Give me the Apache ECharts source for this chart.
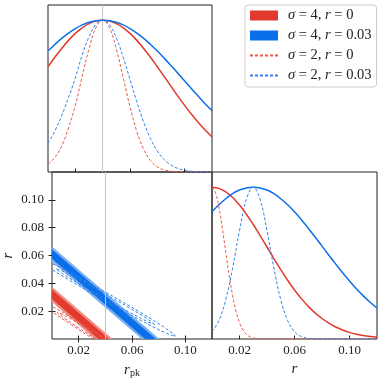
<!DOCTYPE html>
<html>
<head>
<meta charset="utf-8">
<script src="https://cdn.jsdelivr.net/npm/echarts@6/dist/echarts.min.js"></script>
<style>
  html, body { margin: 0; padding: 0; background: #fff; }
  #main { width: 382px; height: 382px; }
</style>
</head>
<body>
<div id="main"></div>
<script>
  // legend entries: sigma and fiducial r of each forecast
  const names = ['σ = 4, r = 0', 'σ = 4, r = 0.03', 'σ = 2, r = 0', 'σ = 2, r = 0.03'];
  const sigmaVals = ['4', '4', '2', '2'];
  const rVals = ['0', '0.03', '0', '0.03'];
  const fiducialRpk = 0.04;

  // sampling of the 1D marginals
  const rpkGrid = [0, 0.005, 0.01, 0.015, 0.02, 0.025, 0.03, 0.035, 0.04, 0.045, 0.05, 0.055, 0.06,
    0.065, 0.07, 0.075, 0.08, 0.085, 0.09, 0.095, 0.1, 0.105, 0.11, 0.115, 0.12];
  const rGrid = rpkGrid;
  const rFineGrid = [0, 0.0025, 0.005, 0.0075, 0.01, 0.0125, 0.015, 0.0175, 0.02, 0.0225, 0.025,
    0.0275, 0.03, 0.035, 0.04, 0.12];

  // r_pk marginals (top left), peak = 1
  const rpkS4r0 = [0.693, 0.756, 0.814, 0.867, 0.913, 0.950, 0.977, 0.994, 1, 0.994, 0.977, 0.950, 0.913,
    0.867, 0.814, 0.756, 0.693, 0.629, 0.564, 0.500, 0.439, 0.380, 0.326, 0.276, 0.231];
  const rpkS4r03 = [0.797, 0.840, 0.880, 0.915, 0.945, 0.969, 0.986, 0.996, 1, 0.996, 0.986, 0.969, 0.945,
    0.915, 0.880, 0.840, 0.797, 0.750, 0.701, 0.651, 0.600, 0.549, 0.499, 0.450, 0.403];
  const rpkS2r0 = [0.053, 0.095, 0.17, 0.29, 0.44, 0.63, 0.81, 0.95, 1, 0.949, 0.810, 0.622, 0.430,
    0.267, 0.150, 0.075, 0.034, 0.014, 0.005, 0.002, 0.0005, 0, 0, 0, 0];
  const rpkS2r03 = [0.189, 0.27, 0.37, 0.49, 0.62, 0.77, 0.89, 0.972, 1, 0.970, 0.884, 0.757, 0.610,
    0.462, 0.329, 0.220, 0.139, 0.082, 0.046, 0.024, 0.012, 0.005, 0.002, 0.001, 0];

  // r marginals (bottom right), peak = 1
  const rS4r0 = [1, 0.992, 0.969, 0.932, 0.882, 0.822, 0.754, 0.681, 0.606, 0.530, 0.457, 0.387, 0.323,
    0.266, 0.215, 0.172, 0.135, 0.104, 0.079, 0.059, 0.0435, 0.0316, 0.0225, 0.0158, 0.011];
  const rS4r03 = [0.838, 0.884, 0.924, 0.957, 0.981, 0.995, 1, 0.995, 0.981, 0.957, 0.924, 0.884, 0.838,
    0.786, 0.730, 0.672, 0.612, 0.552, 0.493, 0.436, 0.382, 0.331, 0.284, 0.242, 0.204];
  const rS2r0 = [1, 0.966, 0.870, 0.730, 0.572, 0.418, 0.285, 0.181, 0.107, 0.059, 0.0305, 0.0146,
    0.0065, 0.001, 0, 0];
  const rS2r03 = [0.048, 0.121, 0.259, 0.468, 0.713, 0.919, 1, 0.919, 0.713, 0.468, 0.259, 0.121, 0.048,
    0.016, 0.0045, 0.0011, 0.0002, 0, 0, 0, 0, 0, 0, 0, 0];

  // 2D contours [r_pk, r]: filled bands (sigma = 4), visible part
  const bandS4r0Outer = [[0, 0.0375], [0.04545, 0], [0.0321, 0], [0, 0.0265]];
  const bandS4r0Inner = [[0, 0.0353], [0.0428, 0], [0.0348, 0], [0, 0.0287]];
  const bandS4r03Outer = [[0, 0.0665], [0.0806, 0], [0.0673, 0], [0, 0.0555]];
  const bandS4r03Inner = [[0, 0.0643], [0.0779, 0], [0.0699, 0], [0, 0.0577]];
  // dashed contours (sigma = 2), closed outlines
  const lineS2r0Outer = [[0.081, -0.027], [0.075, -0.0219], [0.0585, -0.0109], [0.036, 0.003], [0.0135, 0.0161],
    [-0.003, 0.0249], [-0.009, 0.027], [-0.003, 0.0219], [0.0135, 0.0109], [0.036, -0.003],
    [0.0585, -0.0161], [0.075, -0.0249], [0.081, -0.027]];
  const lineS2r0Inner = [[0.068, -0.0192], [0.0637, -0.0157], [0.052, -0.008], [0.036, 0.0018], [0.020, 0.0112],
    [0.0083, 0.0175], [0.004, 0.0192], [0.0083, 0.0157], [0.020, 0.008], [0.036, -0.0018],
    [0.052, -0.0112], [0.0637, -0.0175], [0.068, -0.0192]];
  const lineS2r03Outer = [[0.093, 0.0019], [0.0859, 0.0073], [0.0665, 0.019], [0.04, 0.0337], [0.0135, 0.0476],
    [-0.0059, 0.0569], [-0.013, 0.0591], [-0.0059, 0.0537], [0.0135, 0.042], [0.04, 0.0273],
    [0.0665, 0.0134], [0.0859, 0.0041], [0.093, 0.0019]];
  const lineS2r03Inner = [[0.077, 0.0105], [0.072, 0.0141], [0.0585, 0.0221], [0.04, 0.0323], [0.0215, 0.0421],
    [0.008, 0.0487], [0.003, 0.0505], [0.008, 0.0469], [0.0215, 0.0389], [0.04, 0.0287],
    [0.0585, 0.019], [0.072, 0.0123], [0.077, 0.0105]];

  const xTicks = [0.02, 0.06, 0.10];
  const yTicks = [0.02, 0.04, 0.06, 0.08, 0.10];

  const red = '#e23a2c', blue = '#0b6fe9', redLight = '#ee8c83', blueLight = '#79b0f3';
  const redDash = '#e8564a', blueDash = '#2f82ec';
  const serif = '"Liberation Serif", "DejaVu Serif", serif';
  const ink = '#222';

  const pairs = (xs, ys) => xs.map((x, i) => [x, ys[i]]);

  function band(name, pts, color, fill, z) {
    return {
      type: 'custom', name: name, xAxisIndex: 1, yAxisIndex: 1, z: z, silent: true,
      itemStyle: { color: color },
      data: pts,
      renderItem: function (params, api) {
        if (params.dataIndex !== 0) return null;
        return {
          type: 'polygon',
          shape: { points: pts.map(p => api.coord(p)) },
          style: { fill: fill }
        };
      }
    };
  }

  function curve(name, xi, yi, data, color, dashed, z) {
    return {
      type: 'line', name: name, xAxisIndex: xi, yAxisIndex: yi, data: data,
      symbol: 'none', smooth: 0.4, z: z, silent: true, clip: true,
      lineStyle: dashed ? { color: color, width: 1, type: [3, 2] } : { color: color, width: 1.5 },
      itemStyle: { color: color }
    };
  }

  const vline = {
    silent: true, symbol: 'none', label: { show: false },
    lineStyle: { color: '#c4c4c4', width: 1, type: 'solid' },
    data: [{ xAxis: fiducialRpk }]
  };

  const chart = echarts.init(document.getElementById('main'));

  const series = [
    band(names[0], bandS4r0Outer, red, redLight, 1),
    band(names[0], bandS4r0Inner, red, red, 2),
    band(names[1], bandS4r03Outer, blue, blueLight, 1),
    band(names[1], bandS4r03Inner, blue, blue, 2),
    curve(names[2], 1, 1, lineS2r0Outer, redDash, true, 4),
    curve(names[2], 1, 1, lineS2r0Inner, redDash, true, 4),
    curve(names[3], 1, 1, lineS2r03Outer, blueDash, true, 4),
    curve(names[3], 1, 1, lineS2r03Inner, blueDash, true, 4),
    curve(names[0], 0, 0, pairs(rpkGrid, rpkS4r0), red, false, 3),
    curve(names[1], 0, 0, pairs(rpkGrid, rpkS4r03), blue, false, 3),
    curve(names[2], 0, 0, pairs(rpkGrid, rpkS2r0), redDash, true, 3),
    curve(names[3], 0, 0, pairs(rpkGrid, rpkS2r03), blueDash, true, 3),
    curve(names[0], 3, 3, pairs(rGrid, rS4r0), red, false, 3),
    curve(names[1], 3, 3, pairs(rGrid, rS4r03), blue, false, 3),
    curve(names[2], 3, 3, pairs(rFineGrid, rS2r0), redDash, true, 3),
    curve(names[3], 3, 3, pairs(rGrid, rS2r03), blueDash, true, 3)
  ];
  series[7].markLine = Object.assign({ z: 6 }, vline);
  series[11].markLine = Object.assign({ z: 1 }, vline);

  const hidden = { show: false };
  const tick = (vals) => ({ show: true, inside: true, length: 3.5, customValues: vals, lineStyle: { color: ink, width: 1 } });
  const lab = (vals, m) => ({
    show: true, customValues: vals, margin: m, color: ink,
    fontFamily: serif, fontSize: 13, formatter: v => v.toFixed(2)
  });

  chart.setOption({
    animation: false,
    grid: [
      { left: 48, top: 5, width: 164, height: 167, show: true, borderColor: ink, borderWidth: 1 },
      { left: 48, top: 172, width: 164, height: 167, show: true, borderColor: ink, borderWidth: 1 },
      { left: 212, top: 172, width: 165, height: 167, show: true, borderColor: ink, borderWidth: 1 }
    ],
    xAxis: [
      { type: 'value', gridIndex: 0, min: 0, max: 0.12, axisLine: hidden, splitLine: hidden,
        axisTick: tick(xTicks), axisLabel: hidden },
      { type: 'value', gridIndex: 1, min: 0, max: 0.12, axisLine: hidden, splitLine: hidden,
        axisTick: tick(xTicks), axisLabel: lab(xTicks, 5),
        name: '{i|r}{s|pk}', nameLocation: 'middle', nameGap: 23,
        nameTextStyle: { rich: {
          i: { fontFamily: serif, fontStyle: 'italic', fontSize: 15, color: ink, lineHeight: 16 },
          s: { fontFamily: serif, fontSize: 10, color: ink, lineHeight: 9, verticalAlign: 'bottom' }
        } } },
      { type: 'value', gridIndex: 1, position: 'top', min: 0, max: 0.12, axisLine: hidden, splitLine: hidden,
        axisTick: tick(xTicks), axisLabel: hidden },
      { type: 'value', gridIndex: 2, min: 0, max: 0.12, axisLine: hidden, splitLine: hidden,
        axisTick: tick(xTicks), axisLabel: lab(xTicks, 5),
        name: 'r', nameLocation: 'middle', nameGap: 23,
        nameTextStyle: { fontFamily: serif, fontStyle: 'italic', fontSize: 15, color: ink } }
    ],
    yAxis: [
      { type: 'value', gridIndex: 0, min: 0, max: 1.1, axisLine: hidden, splitLine: hidden,
        axisTick: hidden, axisLabel: hidden },
      { type: 'value', gridIndex: 1, min: 0, max: 0.12, axisLine: hidden, splitLine: hidden,
        axisTick: tick(yTicks), axisLabel: lab(yTicks, 8),
        name: 'r', nameLocation: 'middle', nameGap: 36,
        nameTextStyle: { fontFamily: serif, fontStyle: 'italic', fontSize: 15, color: ink } },
      { type: 'value', gridIndex: 1, position: 'right', min: 0, max: 0.12, axisLine: hidden, splitLine: hidden,
        axisTick: tick(yTicks), axisLabel: hidden },
      { type: 'value', gridIndex: 2, min: 0, max: 1.1, axisLine: hidden, splitLine: hidden,
        axisTick: hidden, axisLabel: hidden }
    ],
    legend: {
      orient: 'vertical', left: 245, top: 5,
      backgroundColor: '#fff', borderColor: '#cccccc', borderWidth: 1, borderRadius: 3,
      padding: [3, 5, 4, 4], itemGap: 5, itemWidth: 28, itemHeight: 10,
      selectedMode: false,
      data: [
        { name: names[0], icon: 'rect', itemStyle: { color: red } },
        { name: names[1], icon: 'rect', itemStyle: { color: blue } },
        { name: names[2], itemStyle: { opacity: 0 } },
        { name: names[3], itemStyle: { opacity: 0 } }
      ],
      formatter: function (name) {
        const i = names.indexOf(name);
        return '{g|}{m|σ}{n| = ' + sigmaVals[i] + ', }{m|r}{n| = ' + rVals[i] + '}';
      },
      textStyle: {
        rich: {
          g: { width: 5 },
          m: { fontFamily: serif, fontStyle: 'italic', fontSize: 14.5, color: ink, lineHeight: 14 },
          n: { fontFamily: serif, fontSize: 14.5, color: ink, lineHeight: 14 }
        }
      }
    },
    series: series
  });
</script>
</body>
</html>
